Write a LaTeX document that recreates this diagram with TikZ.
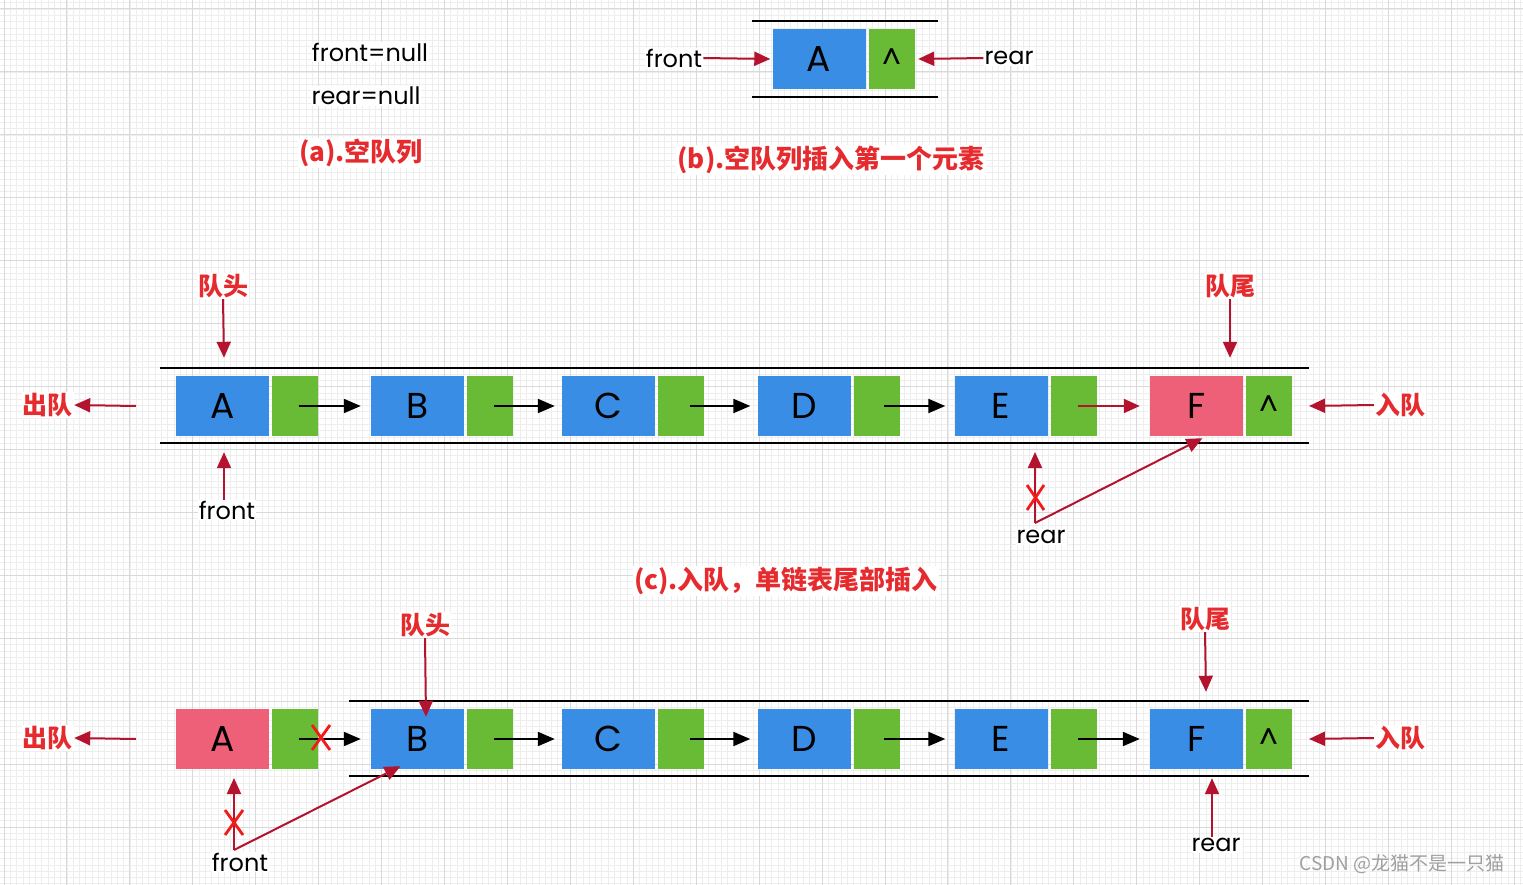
\documentclass[tikz,border=0pt]{standalone}
\usepackage{fontspec}
\setmainfont{Poppins}
\newfontfamily\cjk{Noto Sans CJK SC}
\usetikzlibrary{arrows.meta,calc}
\definecolor{qblue}{HTML}{3A8DE5}
\definecolor{qgreen}{HTML}{69BB36}
\definecolor{qpink}{HTML}{EE5F78}
\definecolor{darr}{HTML}{B3132E}
\definecolor{rtxt}{HTML}{E62B2F}
\definecolor{xred}{HTML}{F21A1A}
\definecolor{gridfine}{HTML}{EEEEEE}
\definecolor{gridmaj}{HTML}{D9D9D9}
\definecolor{wm}{HTML}{A0A0A0}
\tikzset{
  valbox/.style={rectangle, inner sep=0pt, minimum width=93pt, minimum height=60pt, fill=qblue, font=\fontsize{36}{36}\selectfont},
  pinkbox/.style={valbox, fill=qpink},
  ptrbox/.style={rectangle, inner sep=0pt, minimum width=46pt, minimum height=60pt, fill=qgreen, font=\fontsize{30}{30}\selectfont},
  lbl/.style={font=\fontsize{24}{24}\selectfont, fill=white, inner sep=1pt},
  rlbl/.style={font=\cjk\bfseries\fontsize{25}{25}\selectfont, text=rtxt, fill=white, inner sep=1pt},
  captxt/.style={font=\cjk\bfseries\fontsize{26}{26}\selectfont, text=rtxt, fill=white, inner sep=1pt},
  rarr/.style={draw=darr, line width=2pt, -{Triangle[length=16pt,width=14pt]}},
  barr/.style={draw=black, line width=2pt, -{Triangle[length=17pt,width=14pt]}},
  rail/.style={draw=black, line width=2pt},
  xmk/.style={draw=xred, line width=2.8pt},
}
\begin{document}
\begin{tikzpicture}[x=1pt,y=-1pt]
\useasboundingbox (0,0) rectangle (1523,885);
\fill[white] (0,0) rectangle (1523,885);
% grid
\foreach \i in {-1,...,243} {
  \draw[gridfine, line width=0.7pt] ({4+\i*6.293},0) -- ({4+\i*6.293},885);
}
\foreach \i in {-2,...,141} {
  \draw[gridfine, line width=0.7pt] (0,{9+\i*6.293}) -- (1523,{9+\i*6.293});
}
\foreach \i in {0,...,24} {
  \draw[gridmaj, line width=1pt] ({4+\i*62.93},0) -- ({4+\i*62.93},885);
}
\foreach \i in {0,...,14} {
  \draw[gridmaj, line width=1pt] (0,{9+\i*62.93}) -- (1523,{9+\i*62.93});
}

% ---------- (a)
\node[lbl] (fnull) at (370,52) {front=null};
\node[lbl] (rnull) at (366,96) {rear=null};
\node[captxt] (capa) at (361,153) {(a).空队列};

% ---------- (b)
\draw[rail] (752,21) -- (938,21);
\draw[rail] (752,97) -- (938,97);
\node[valbox] (bA) at (819,59) {A};
\node[ptrbox] (bP) at (892,59) {\^{}};
\node[lbl] (bfront) at (674,58) {front};
\node[lbl] (brear) at (1009,58) {rear};
\draw[rarr] (bfront.east) -- ([xshift=-2pt]bA.west);
\draw[rarr] (brear.west) -- ([xshift=3pt]bP.east);
\node[captxt] (capb) at (831,160) {(b).空队列插入第一个元素};

% ---------- (c)
\draw[rail] (160,368) -- (1309,368);
\draw[rail] (160,443) -- (1309,443);
\node[valbox] (cA) at (222.5,406) {A};
\node[ptrbox] (cPA) at (294.5,406) {};
\node[valbox] (cB) at (417.5,406) {B};
\node[ptrbox] (cPB) at (489.5,406) {};
\node[valbox] (cC) at (608.5,406) {C};
\node[ptrbox] (cPC) at (681,406) {};
\node[valbox] (cD) at (804,406) {D};
\node[ptrbox] (cPD) at (876.5,406) {};
\node[valbox] (cE) at (1001,406) {E};
\node[ptrbox] (cPE) at (1074,406) {};
\node[pinkbox] (cF) at (1196.5,406) {F};
\node[ptrbox] (cPF) at (1269,406) {\^{}};
\draw[barr] ([xshift=4pt]cPA.center) -- ([xshift=-10pt]cB.west);
\draw[barr] ([xshift=4pt]cPB.center) -- ([xshift=-7pt]cC.west);
\draw[barr] ([xshift=9pt]cPC.center) -- ([xshift=-7pt]cD.west);
\draw[barr] ([xshift=7pt]cPD.center) -- ([xshift=-9pt]cE.west);
\draw[rarr] ([xshift=4pt]cPE.center) -- ([xshift=-10pt]cF.west);
\node[rlbl] (cHead) at (223,286) {队头};
\node[rlbl] (cTail) at (1230,286) {队尾};
\draw[rarr] (cHead.south) -- ([xshift=1.5pt,yshift=18pt]cA.north);
\draw[rarr] (cTail.south) -- ([xshift=33.5pt,yshift=18pt]cF.north);
\node[lbl] (cfront) at (227,510) {front};
\draw[rarr] ([xshift=-3pt]cfront.north) -- ([xshift=1.5pt,yshift=-16pt]cA.south);
\node[rlbl] (cOut) at (48,405) {出队};
\coordinate (cOutS) at (136,406);
\draw[rarr] (cOutS) -- (cOut.east);
\node[rlbl] (cIn) at (1400,405) {入队};
\coordinate (cInE) at (1309,406);
\draw[rarr] (cIn.west) -- (cInE);
\node[lbl] (crear) at (1041,537) {rear};
\coordinate (cr0) at (1035,523);
\coordinate (cr1) at (1035,452);
\draw[rarr] (cr0) -- (cr1);
\draw[rarr] (cr0) -- ([xshift=6pt,yshift=-2pt]cF.south);
\draw[xmk] (1027,485) -- (1044,510);
\draw[xmk] (1044,485) -- (1027,510);
\node[captxt] (capc) at (786,581) {(c).入队，单链表尾部插入};

% ---------- (d)
\draw[rail] (349,701) -- (1309,701);
\draw[rail] (349,776) -- (1309,776);
\node[pinkbox] (dA) at (222.5,739) {A};
\node[ptrbox] (dPA) at (294.5,739) {};
\node[valbox] (dB) at (417.5,739) {B};
\node[ptrbox] (dPB) at (489.5,739) {};
\node[valbox] (dC) at (608.5,739) {C};
\node[ptrbox] (dPC) at (681,739) {};
\node[valbox] (dD) at (804,739) {D};
\node[ptrbox] (dPD) at (876.5,739) {};
\node[valbox] (dE) at (1001,739) {E};
\node[ptrbox] (dPE) at (1074,739) {};
\node[valbox] (dF) at (1196.5,739) {F};
\node[ptrbox] (dPF) at (1269,739) {\^{}};
\draw[barr] ([xshift=4pt]dPA.center) -- ([xshift=-10pt]dB.west);
\draw[barr] ([xshift=4pt]dPB.center) -- ([xshift=-7pt]dC.west);
\draw[barr] ([xshift=9pt]dPC.center) -- ([xshift=-7pt]dD.west);
\draw[barr] ([xshift=7pt]dPD.center) -- ([xshift=-9pt]dE.west);
\draw[barr] ([xshift=4pt]dPE.center) -- ([xshift=-10pt]dF.west);
\draw[xmk] (312,725) -- (330,750);
\draw[xmk] (330,725) -- (312,750);
\node[rlbl] (dHead) at (425,625) {队头};
\node[rlbl] (dTail) at (1205,619) {队尾};
\draw[rarr] (dHead.south) -- ([xshift=8.5pt,yshift=-8pt]dB.north);
\draw[rarr] (dTail.south) -- ([xshift=9.5pt,yshift=17pt]dF.north);
\node[rlbl] (dOut) at (48,738) {出队};
\coordinate (dOutS) at (136,739);
\draw[rarr] (dOutS) -- (dOut.east);
\node[rlbl] (dIn) at (1400,738) {入队};
\coordinate (dInE) at (1309,739);
\draw[rarr] (dIn.west) -- (dInE);
\node[lbl] (drear) at (1216,845) {rear};
\draw[rarr] ([xshift=-4pt]drear.north) -- ([xshift=15.5pt,yshift=-9pt]dF.south);
\node[lbl] (dfront) at (240,862) {front};
\coordinate (df0) at (234,850);
\coordinate (df1) at (234,778);
\draw[rarr] (df0) -- (df1);
\draw[rarr] (df0) -- ([xshift=-17pt,yshift=3pt]dB.south);
\draw[xmk] (225,810) -- (243,835);
\draw[xmk] (243,810) -- (225,835);

% watermark
\node[font=\cjk\fontsize{19}{19}\selectfont, text=wm, inner sep=0pt] (wmk) at (1402,864) {CSDN @龙猫不是一只猫};
\end{tikzpicture}
\end{document}
